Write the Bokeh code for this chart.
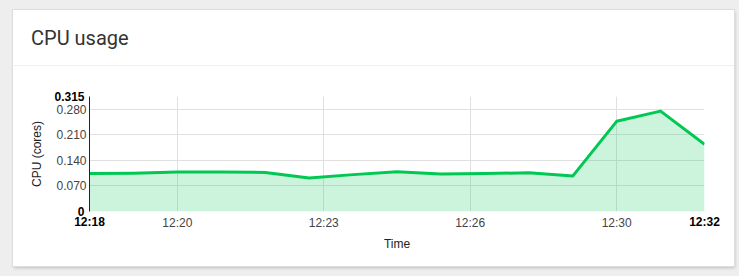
import pandas as pd
from bokeh.plotting import figure
from bokeh.layouts import column
from bokeh.models import (Range1d, FixedTicker, DatetimeTickFormatter, Label, Span,
                          PrintfTickFormatter, LinearAxis, DatetimeAxis)
from bokeh.embed import file_html
from bokeh.resources import INLINE

# ---- data ----
day = "2024-01-01"
times = ["12:18", "12:19", "12:20", "12:21", "12:22", "12:23", "12:24", "12:25",
         "12:26", "12:27", "12:28", "12:29", "12:30", "12:31", "12:32"]
cpu = [0.104, 0.105, 0.108, 0.108, 0.107, 0.092, 0.101, 0.109,
       0.103, 0.104, 0.106, 0.097, 0.247, 0.275, 0.184]
x_ticks = ["12:20:00", "12:23:20", "12:26:40", "12:30:00"]
y_ticks = [0.07, 0.14, 0.21, 0.28]
y_max = 0.315
x_start, x_end = "12:18", "12:32"
y_edge_ticks = [0, 0.315]

def ms(t):
    return pd.Timestamp(f"{day} {t}").value / 1e6

xs = [ms(t) for t in times]
x0, x1 = ms(x_start), ms(x_end)

GREEN = "#00c853"
FONT = "Liberation Sans"
HM = dict(milliseconds="%H:%M", seconds="%H:%M", minsec="%H:%M",
          minutes="%H:%M", hourmin="%H:%M", hours="%H:%M")

# ---- header (card title) ----
header = figure(width=721, height=56, x_range=Range1d(0, 721), y_range=Range1d(0, 56),
                toolbar_location=None, output_backend="svg", min_border=0, title=None,
                x_axis_location=None, y_axis_location=None)
header.frame_align = False
header.grid.visible = False
header.outline_line_color = None
header.add_layout(Label(x=17.5, y=28.5, text="CPU usage", text_font="Roboto",
                        text_font_size="20px", text_color="#333333",
                        text_baseline="alphabetic", text_align="left"))
header.add_layout(Span(location=0.5, dimension="width", line_color="#e0e0e0", line_width=1))

# ---- main chart ----
p = figure(width=721, height=200, x_axis_type="datetime", title=None,
           x_range=Range1d(x0, x1), y_range=Range1d(0, y_max),
           toolbar_location=None, output_backend="svg",
           min_border_left=76, min_border_right=30, min_border_top=30, min_border_bottom=55)
p.outline_line_color = None
p.frame_align = False

p.varea(x=xs, y1=[0] * len(cpu), y2=cpu, fill_color=GREEN, fill_alpha=0.2)
p.line(xs, cpu, line_color=GREEN, line_width=3, line_join="round")

def style_axis(ax, bold=False):
    ax.major_tick_line_color = None
    ax.minor_tick_line_color = None
    ax.major_tick_out = 0
    ax.major_tick_in = 0
    ax.major_label_text_font = FONT
    ax.major_label_text_font_size = "12px"
    ax.major_label_text_font_style = "bold" if bold else "normal"
    ax.major_label_text_color = "black" if bold else "#444444"
    ax.axis_label_text_font = FONT
    ax.axis_label_text_font_size = "12px"
    ax.axis_label_text_font_style = "normal"
    ax.axis_label_text_color = "#222222"

# regular x ticks (closest to frame)
xa = p.xaxis[0]
xa.ticker = FixedTicker(ticks=[ms(t) for t in x_ticks])
xa.formatter = DatetimeTickFormatter(**HM)
xa.axis_line_color = None
style_axis(xa)
xa.major_label_standoff = 4

# bold edge x ticks, pulled up onto the same row
xb = DatetimeAxis(ticker=FixedTicker(ticks=[x0, x1]), formatter=DatetimeTickFormatter(**HM))
style_axis(xb, bold=True)
xb.axis_line_color = None
xb.major_label_standoff = -18
xb.axis_label = "Time"
xb.axis_label_standoff = 5
p.add_layout(xb, "below")

# regular y ticks
ya = p.yaxis[0]
ya.ticker = FixedTicker(ticks=y_ticks)
ya.formatter = PrintfTickFormatter(format="%.3f")
ya.axis_line_color = "#222222"
style_axis(ya)
ya.major_label_standoff = 3

# bold edge y ticks, pulled right onto the same column
yb = LinearAxis(ticker=FixedTicker(ticks=y_edge_ticks),
                formatter=PrintfTickFormatter(format="%g"))
style_axis(yb, bold=True)
yb.axis_line_color = None
yb.major_label_standoff = -31
yb.axis_label = "CPU (cores)"
yb.axis_label_standoff = 7
p.add_layout(yb, "left")

p.xgrid.grid_line_color = "#e0e0e0"
p.ygrid.grid_line_color = "#e0e0e0"

card = column(header, p, margin=(10, 5, 10, 13),
              styles={"background-color": "white",
                      "box-shadow": "0 0 0 1px #dddddd, 1px 2px 3px rgba(0,0,0,0.2)"})
root = column(card, width=739, height=276, styles={"background-color": "#eeeeee"})

open("out.html", "w").write(file_html(root, INLINE))
